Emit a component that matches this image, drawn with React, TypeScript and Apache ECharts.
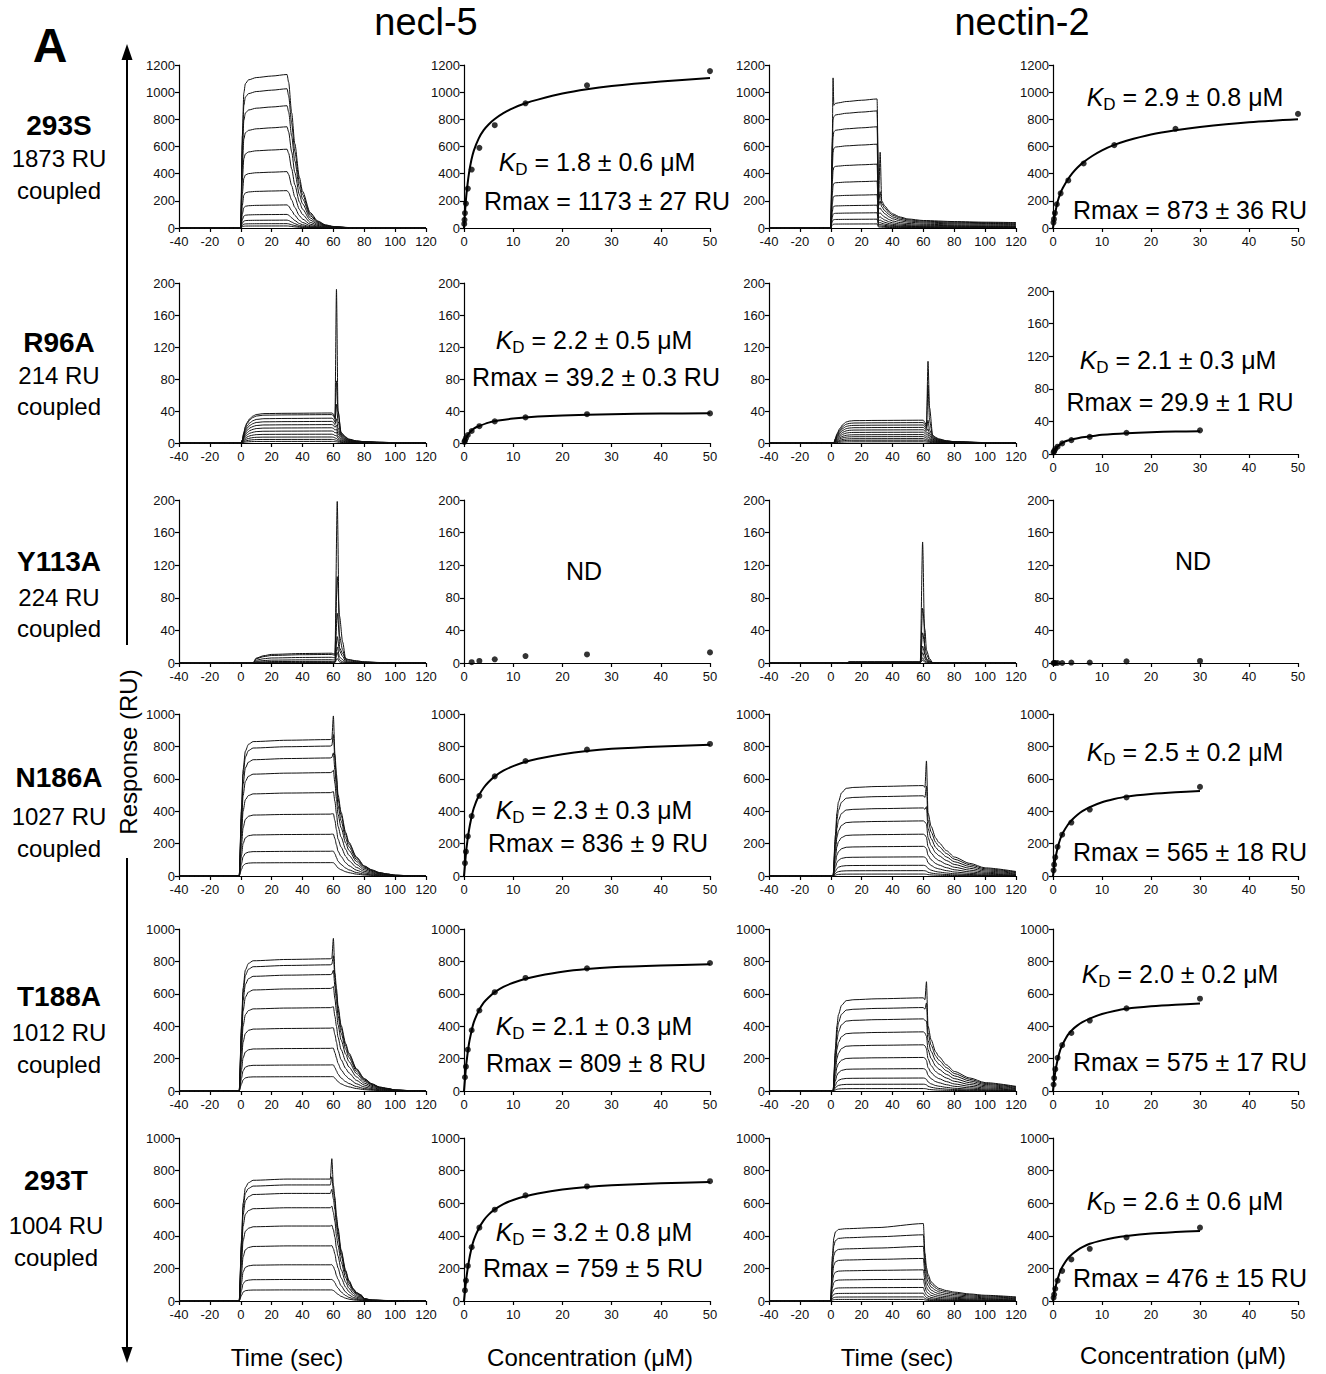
import React, { useEffect, useRef } from 'react';
import * as echarts from 'echarts';

const FONT = '"Liberation Sans", Arial, Helvetica, sans-serif';

// ---------- labels ----------
const ROW_NAMES = ['293S', 'R96A', 'Y113A', 'N186A', 'T188A', '293T'];
const ROW_COUPLED = ['1873 RU', '214 RU', '224 RU', '1027 RU', '1012 RU', '1004 RU'];
const COL_TITLES = ['necl-5', 'nectin-2'];
const Y_MAX = [1200, 200, 200, 1000, 1000, 1000];
const Y_STEP = [200, 40, 40, 200, 200, 200];
const KD_TEXT = [
  ['1.8 ± 0.6 μM', '2.9 ± 0.8 μM'],
  ['2.2 ± 0.5 μM', '2.1 ± 0.3 μM'],
  ['', ''],
  ['2.3 ± 0.3 μM', '2.5 ± 0.2 μM'],
  ['2.1 ± 0.3 μM', '2.0 ± 0.2 μM'],
  ['3.2 ± 0.8 μM', '2.6 ± 0.6 μM'],
];
const RMAX_TEXT = [
  ['Rmax = 1173 ± 27 RU', 'Rmax = 873 ± 36 RU'],
  ['Rmax = 39.2 ± 0.3 RU', 'Rmax = 29.9 ± 1 RU'],
  ['', ''],
  ['Rmax = 836 ± 9 RU', 'Rmax = 565 ± 18 RU'],
  ['Rmax = 809 ± 8 RU', 'Rmax = 575 ± 17 RU'],
  ['Rmax = 759 ± 5 RU', 'Rmax = 476 ± 15 RU'],
];

// ---------- sensorgram data (time, fraction of plateau, plateau levels, injection spikes) ----------
type Spike = [number, number[]];

const T_N_293S = [-40, 0, 1, 2, 3, 5, 10, 20, 30, 31, 33, 35, 38, 40, 45, 50, 55, 60, 70, 80, 120];
const F_N_293S = [0, 0, 0.6, 0.88, 0.94, 0.965, 0.98, 0.99, 1.0, 0.95, 0.75, 0.55, 0.33, 0.24, 0.1, 0.045, 0.02, 0.01, 0.003, 0, 0];
const L_N_293S = [1130, 1025, 900, 745, 580, 415, 275, 170, 100, 58, 32, 15];
const S_N_293S: Spike[] = [];

const T_C_293S = [-40, 0, 1, 1.5, 2, 3, 5, 10, 20, 30, 31, 32, 33, 35, 38, 40, 45, 50, 60, 80, 100, 120];
const F_C_293S = [0, 0, 0.7, 0.9, 0.95, 0.965, 0.97, 0.98, 0.99, 1.0, 0.22, 0.24, 0.21, 0.17, 0.13, 0.11, 0.085, 0.07, 0.058, 0.05, 0.045, 0.042];
const L_C_293S = [950, 862, 745, 617, 470, 345, 245, 168, 112, 65, 30];
const S_C_293S: Spike[] = [[1.5, [250, 20]], [32, [330, 60, 20]]];

const T_N_R96A = [-40, 0, 1, 2, 3, 4, 6, 8, 10, 15, 30, 59, 60, 61, 62, 63, 65, 68, 70, 75, 80, 90, 100, 120];
const F_N_R96A = [0, 0, 0.1, 0.35, 0.55, 0.68, 0.82, 0.9, 0.95, 0.98, 0.99, 1.0, 0.97, 0.85, 0.75, 0.55, 0.35, 0.2, 0.13, 0.07, 0.045, 0.025, 0.012, 0.005];
const L_N_R96A = [37.5, 35.5, 31, 27, 23, 19, 15, 11, 7.5, 4.5, 2];
const S_N_R96A: Spike[] = [[62, [164, 51, 25, 10, 5, 3, 2, 1]], [63, [20, 20, 10, 4, 2, 1]]];

const T_C_R96A = [-40, 2, 3, 4, 6, 8, 10, 12, 15, 30, 60, 61, 62, 63, 64, 66, 68, 70, 75, 80, 100, 120];
const F_C_R96A = [0, 0, 0.2, 0.4, 0.65, 0.82, 0.92, 0.96, 0.98, 0.99, 1.0, 0.9, 0.75, 0.6, 0.5, 0.35, 0.25, 0.18, 0.1, 0.06, 0.02, 0.01];
const L_C_R96A = [28.5, 25.5, 22.5, 19.5, 16.5, 13.5, 10.5, 8, 5.5, 3.5, 1.5];
const S_C_R96A: Spike[] = [[63, [85, 57, 15, 6, 3, 2, 1]], [64, [30, 15, 5, 2, 1]]];

const T_N_Y113A = [-40, 0, 8, 10, 15, 20, 40, 59, 60, 61, 62.5, 64, 66, 68, 70, 75, 80, 90, 100, 120];
const F_N_Y113A = [0, 0, 0, 0.5, 0.75, 0.88, 0.97, 1.0, 0.95, 0.9, 0.85, 0.7, 0.55, 0.45, 0.35, 0.22, 0.12, 0.05, 0.03, 0.02];
const L_N_Y113A = [12, 10.5, 7, 4, 2, 1, 0.5];
const S_N_Y113A: Spike[] = [[62.5, [188, 97, 55, 29, 18, 12, 5]], [64, [10, 50, 28, 12, 6, 3, 1]], [66, [5, 20, 12, 6, 3, 1, 0]]];

const T_C_Y113A = [-40, 10, 12, 20, 57, 58, 59.5, 61, 62, 64, 66, 70, 80, 120];
const F_C_Y113A = [0, 0, 1, 1, 1, 1, 1, 0.8, 0.6, 0.4, 0.3, 0.15, 0.05, 0];
const L_C_Y113A = [1.5, 1.2, 1, 0.8, 0.6, 0.4, 0.2];
const S_C_Y113A: Spike[] = [[59.5, [147, 66, 36, 20, 12, 6, 3]], [61, [10, 40, 20, 10, 5, 2, 1]], [62, [3, 15, 10, 5, 2, 1, 0]], [64, [1, 5, 3, 2, 1]]];

const T_N_N186A = [-40, -1, 0.5, 1.5, 3, 5, 8, 30, 58, 59, 60, 61, 62, 63, 65, 68, 70, 75, 80, 85, 90, 95, 100, 110, 120];
const F_N_N186A = [0, 0, 0.5, 0.78, 0.92, 0.97, 0.99, 1.0, 1.005, 1.01, 1.0, 0.9, 0.75, 0.6, 0.47, 0.32, 0.25, 0.14, 0.075, 0.045, 0.025, 0.015, 0.006, 0.002, 0];
const L_N_N186A = [838, 798, 725, 635, 512, 380, 256, 152, 82];
const S_N_N186A: Spike[] = [[60, [150, 75, 35, 18, 9, 4, 2, 1]]];

const T_C_N186A = [-40, 1.5, 3, 4, 5, 7, 10, 15, 30, 60, 61, 62, 63, 65, 68, 70, 75, 80, 90, 100, 120];
const F_C_N186A = [0, 0, 0.45, 0.7, 0.82, 0.92, 0.97, 0.98, 0.99, 1.0, 0.98, 0.9, 0.7, 0.55, 0.42, 0.37, 0.28, 0.21, 0.14, 0.09, 0.05];
const L_C_N186A = [558, 495, 420, 340, 258, 183, 118, 66, 33, 12];
const S_C_N186A: Spike[] = [[62, [208, 110, 50, 15, 6, 3, 1]]];

const T_N_T188A = [-40, -1, 0.5, 1.5, 3, 5, 8, 30, 58, 59, 60, 61, 62, 63, 65, 68, 70, 75, 80, 85, 90, 95, 100, 110, 120];
const F_N_T188A = [0, 0, 0.5, 0.78, 0.92, 0.97, 0.99, 1.0, 1.005, 1.01, 1.0, 0.9, 0.78, 0.65, 0.5, 0.36, 0.29, 0.17, 0.095, 0.055, 0.03, 0.02, 0.008, 0.003, 0];
const L_N_T188A = [812, 775, 715, 630, 512, 386, 262, 160, 88];
const S_N_T188A: Spike[] = [[60, [130, 60, 30, 15, 8, 4, 2, 1]]];

const T_C_T188A = [-40, 1.5, 3, 4, 5, 7, 10, 15, 30, 60, 61, 62, 63, 65, 68, 70, 75, 80, 90, 100, 120];
const F_C_T188A = [0, 0, 0.45, 0.7, 0.82, 0.92, 0.97, 0.98, 0.99, 1.0, 0.98, 0.9, 0.7, 0.55, 0.42, 0.37, 0.28, 0.21, 0.14, 0.09, 0.05];
const L_C_T188A = [575, 515, 445, 365, 285, 207, 138, 80, 42, 15];
const S_C_T188A: Spike[] = [[62, [157, 80, 30, 10, 5, 2]]];

const T_N_293T = [-40, -1, 0.5, 1.5, 3, 5, 8, 30, 58, 59, 60, 61, 62, 63, 65, 68, 70, 73, 75, 78, 80, 85, 95, 120];
const F_N_293T = [0, 0, 0.5, 0.8, 0.93, 0.97, 0.99, 1.0, 1.0, 1.0, 0.95, 0.85, 0.7, 0.6, 0.42, 0.25, 0.17, 0.1, 0.07, 0.05, 0.02, 0.008, 0.004, 0];
const L_N_293T = [748, 712, 660, 572, 460, 338, 222, 132, 68];
const S_N_293T: Spike[] = [[59, [125, 50, 25, 10, 5, 2, 1]]];

const T_C_293T = [-40, 0, 1, 2, 3, 5, 10, 30, 60, 61, 62, 63, 65, 68, 70, 75, 80, 90, 100, 120];
const F_C_293T = [0, 0, 0.6, 0.85, 0.93, 0.965, 0.975, 0.99, 1.0, 0.65, 0.45, 0.36, 0.26, 0.2, 0.17, 0.14, 0.12, 0.095, 0.077, 0.055];
const L_C_293T = [455, 398, 328, 258, 190, 133, 83, 48, 25, 10];
const S_C_293T: Spike[] = [[60, [20, 8, 7, 3, 1]]];

// ---------- isotherm data ----------
const C_NECL = [0.049, 0.098, 0.195, 0.39, 0.78, 1.56, 3.125, 6.25, 12.5, 25, 50];
const C_NECTIN = [0.117, 0.234, 0.469, 0.938, 1.875, 3.75, 7.5, 15, 30];

const R_N_293S = [30, 60, 110, 180, 290, 430, 590, 757, 918, 1050, 1155];
const FIT_N_293S = [[0, 0], [0.25, 140], [0.5, 250], [1, 400], [1.5, 500], [2, 570], [3, 660], [4, 720], [5, 762], [6.25, 802], [8, 845], [10, 883], [12.5, 918], [15, 945], [20, 990], [25, 1022], [30, 1045], [40, 1078], [50, 1105]];
const R_C_293S = [40, 65, 110, 175, 255, 350, 475, 610, 730, 840];
const FIT_C_293S = [[0, 0], [0.25, 70], [0.5, 120], [1, 200], [1.5, 255], [2, 295], [3, 355], [4, 405], [5, 445], [6.25, 485], [8, 530], [10, 572], [12.5, 612], [15, 642], [20, 688], [25, 720], [30, 744], [40, 778], [50, 800]];

const R_N_R96A = [1.5, 3, 6, 10, 15, 21, 27, 32, 36, 37];
const FIT_N_R96A = [[0, 0], [0.5, 7], [1, 12], [2, 18], [3, 21], [5, 25.5], [7, 28], [10, 30.5], [15, 33], [20, 34.5], [30, 36], [40, 36.8], [50, 37.2]];
const R_C_R96A = [2, 3.5, 6, 9, 13, 17, 21, 26, 29];
const FIT_C_R96A = [[0, 0], [0.5, 6], [1, 9.5], [2, 14], [3, 16.5], [4, 18], [6, 20.5], [8, 22], [10, 23.5], [15, 25.5], [20, 26.8], [25, 27.5], [30, 28]];

const R_N_Y113A = [1, 2.5, 4.5, 8.5, 10.5, 13];
const R_C_Y113A = [0, 0, 0, 0, 0, 0.5, 0.5, 2, 2.5];

const R_N_N186A = [80, 150, 245, 370, 495, 615, 710, 780, 815];
const FIT_N_N186A = [[0, 0], [0.2, 70], [0.5, 170], [1, 280], [1.5, 360], [2, 420], [3, 495], [4, 545], [5, 580], [6.25, 615], [8, 650], [10, 678], [12.5, 705], [15, 724], [20, 752], [25, 772], [30, 785], [40, 800], [50, 810]];
const R_C_N186A = [35, 70, 115, 180, 255, 330, 410, 485, 550];
const FIT_C_N186A = [[0, 0], [0.25, 60], [0.5, 110], [1, 180], [1.5, 230], [2, 265], [3, 315], [4, 350], [5, 378], [6, 400], [7.5, 425], [10, 455], [12.5, 475], [15, 490], [20, 506], [25, 517], [30, 525]];

const R_N_T188A = [85, 150, 255, 375, 497, 610, 698, 757, 790];
const FIT_N_T188A = [[0, 0], [0.2, 75], [0.5, 175], [1, 290], [1.5, 365], [2, 425], [3, 495], [4, 545], [5, 577], [6.25, 610], [8, 643], [10, 668], [12.5, 693], [15, 710], [20, 736], [25, 753], [30, 764], [40, 775], [50, 782]];
const R_C_T188A = [40, 80, 135, 205, 283, 358, 435, 510, 570];
const FIT_C_T188A = [[0, 0], [0.25, 70], [0.5, 125], [1, 200], [1.5, 255], [2, 290], [3, 345], [4, 380], [5, 405], [6, 425], [7.5, 447], [10, 475], [12.5, 494], [15, 508], [20, 523], [25, 533], [30, 540]];

const R_N_293T = [65, 125, 215, 330, 450, 560, 648, 703, 735];
const FIT_N_293T = [[0, 0], [0.2, 60], [0.5, 145], [1, 245], [1.5, 320], [2, 375], [3, 445], [4, 495], [5, 530], [6.25, 562], [8, 595], [10, 620], [12.5, 643], [15, 660], [20, 684], [25, 700], [30, 710], [40, 722], [50, 730]];
const R_C_293T = [20, 40, 75, 125, 185, 255, 320, 390, 450];
const FIT_C_293T = [[0, 0], [0.25, 45], [0.5, 85], [1, 140], [1.5, 185], [2, 215], [3, 260], [4, 290], [5, 312], [6, 330], [7.5, 351], [10, 372], [12.5, 388], [15, 399], [20, 414], [25, 423], [30, 430]];

// panel lookup tables: [row][side] (side 0 = necl-5, 1 = nectin-2)
const SENSOR: [number[], number[], number[], Spike[]][][] = [
  [[T_N_293S, F_N_293S, L_N_293S, S_N_293S], [T_C_293S, F_C_293S, L_C_293S, S_C_293S]],
  [[T_N_R96A, F_N_R96A, L_N_R96A, S_N_R96A], [T_C_R96A, F_C_R96A, L_C_R96A, S_C_R96A]],
  [[T_N_Y113A, F_N_Y113A, L_N_Y113A, S_N_Y113A], [T_C_Y113A, F_C_Y113A, L_C_Y113A, S_C_Y113A]],
  [[T_N_N186A, F_N_N186A, L_N_N186A, S_N_N186A], [T_C_N186A, F_C_N186A, L_C_N186A, S_C_N186A]],
  [[T_N_T188A, F_N_T188A, L_N_T188A, S_N_T188A], [T_C_T188A, F_C_T188A, L_C_T188A, S_C_T188A]],
  [[T_N_293T, F_N_293T, L_N_293T, S_N_293T], [T_C_293T, F_C_293T, L_C_293T, S_C_293T]],
];
const ISO: [number[], number[], number[][] | null][][] = [
  [[C_NECL, R_N_293S, FIT_N_293S], [C_NECL.slice(1), R_C_293S, FIT_C_293S]],
  [[C_NECL.slice(1), R_N_R96A, FIT_N_R96A], [C_NECTIN, R_C_R96A, FIT_C_R96A]],
  [[C_NECL.slice(5), R_N_Y113A, null], [C_NECTIN, R_C_Y113A, null]],
  [[C_NECL.slice(2), R_N_N186A, FIT_N_N186A], [C_NECTIN, R_C_N186A, FIT_C_N186A]],
  [[C_NECL.slice(2), R_N_T188A, FIT_N_T188A], [C_NECTIN, R_C_T188A, FIT_C_T188A]],
  [[C_NECL.slice(2), R_N_293T, FIT_N_293T], [C_NECTIN, R_C_293T, FIT_C_293T]],
];

// ---------- layout ----------
const COL_LEFT = [179, 464, 769, 1053];
const COL_WIDTH = [247, 246, 247, 245];
const ROW_TOP = [65, 283, 500, 714, 929, 1138];
const ROW_H = [163, 160, 163, 162, 162, 163];
const KD_POS = [
  [[597, 162], [1185, 97]],
  [[594, 340], [1178, 360]],
  [[584, 571], [1193, 561]],
  [[594, 810], [1185, 752]],
  [[594, 1026], [1180, 974]],
  [[594, 1232], [1185, 1201]],
];
const RMAX_POS = [
  [[607, 201], [1190, 210]],
  [[596, 377], [1180, 402]],
  [[0, 0], [0, 0]],
  [[598, 843], [1190, 852]],
  [[596, 1063], [1190, 1062]],
  [[593, 1268], [1190, 1278]],
];
const ROW_LABEL_Y = [
  [125, 158, 190],
  [342, 375, 406],
  [561, 597, 628],
  [777, 816, 848],
  [996, 1032, 1064],
  [1180, 1225, 1257],
];

function sensorCurves(t: number[], f: number[], lv: number[], sp: Spike[]) {
  return lv.map((L, i) =>
    t.map((tt, j) => {
      let v = L * f[j];
      for (const [at, h] of sp) if (at === tt) v += h[i] || 0;
      return [tt, v];
    })
  );
}

function txt(x: number, y: number, text: string, size: number, extra: any = {}) {
  return {
    type: 'text',
    x,
    y,
    silent: true,
    ...extra,
    style: {
      text,
      fontSize: size,
      fontFamily: FONT,
      fill: '#000',
      align: 'center',
      verticalAlign: 'middle',
      textAlign: 'center',
      textVerticalAlign: 'middle',
      ...(extra.style || {}),
    },
  };
}

function buildOption() {
  const grid: any[] = [];
  const xAxis: any[] = [];
  const yAxis: any[] = [];
  const series: any[] = [];
  const axisLine = { show: true, onZero: false, lineStyle: { color: '#000', width: 1.2 } };
  const axisTick = { show: true, length: 4, lineStyle: { color: '#000', width: 1.2 } };
  const labelBase = {
    color: '#111',
    fontSize: 13,
    fontFamily: FONT,
    showMinLabel: true,
    showMaxLabel: true,
    formatter: (v: number) => String(v),
  };
  for (let r = 0; r < 6; r++) {
    for (let c = 0; c < 4; c++) {
      const k = grid.length;
      let top = ROW_TOP[r];
      let h = ROW_H[r];
      if (r === 1 && c === 3) {
        top = 291;
        h = 163;
      }
      grid.push({ left: COL_LEFT[c], top, width: COL_WIDTH[c], height: h, containLabel: false });
      const isSensor = c % 2 === 0;
      xAxis.push({
        gridIndex: k,
        type: 'value',
        min: isSensor ? -40 : 0,
        max: isSensor ? 120 : 50,
        interval: isSensor ? 20 : 10,
        axisLine,
        axisTick,
        axisLabel: { ...labelBase, margin: 7 },
        splitLine: { show: false },
      });
      yAxis.push({
        gridIndex: k,
        type: 'value',
        min: 0,
        max: Y_MAX[r],
        interval: Y_STEP[r],
        axisLine,
        axisTick,
        axisLabel: { ...labelBase, margin: 4 },
        splitLine: { show: false },
      });
      const side = c < 2 ? 0 : 1;
      if (isSensor) {
        const [t, f, lv, sp] = SENSOR[r][side];
        sensorCurves(t, f, lv, sp).forEach((d) => {
          series.push({
            type: 'line',
            xAxisIndex: k,
            yAxisIndex: k,
            data: d,
            showSymbol: false,
            symbol: 'none',
            smooth: 0.25,
            smoothMonotone: 'x',
            clip: true,
            lineStyle: { color: '#111', width: 1 },
            silent: true,
          });
        });
      } else {
        const [conc, resp, fit] = ISO[r][side];
        if (fit) {
          series.push({
            type: 'line',
            xAxisIndex: k,
            yAxisIndex: k,
            data: fit,
            showSymbol: false,
            symbol: 'none',
            smooth: 0.3,
            lineStyle: { color: '#000', width: 2 },
            silent: true,
          });
        }
        series.push({
          type: 'scatter',
          xAxisIndex: k,
          yAxisIndex: k,
          data: conc.map((cc, i) => [cc, resp[i]]),
          symbol: 'circle',
          symbolSize: 6,
          itemStyle: { color: '#000' },
          silent: true,
        });
      }
    }
  }

  const graphic: any[] = [];
  graphic.push(txt(50, 45, 'A', 48, { style: { fontWeight: 'bold' } }));
  graphic.push(txt(426, 22, COL_TITLES[0], 38));
  graphic.push(txt(1022, 22, COL_TITLES[1], 38));
  for (let r = 0; r < 6; r++) {
    const xc = r === 5 ? 56 : 59;
    graphic.push(txt(xc, ROW_LABEL_Y[r][0], ROW_NAMES[r], 28, { style: { fontWeight: 'bold' } }));
    graphic.push(txt(xc, ROW_LABEL_Y[r][1], ROW_COUPLED[r], 24));
    graphic.push(txt(xc, ROW_LABEL_Y[r][2], 'coupled', 24));
    for (let s = 0; s < 2; s++) {
      const [kx, ky] = KD_POS[r][s];
      if (r === 2) {
        graphic.push(txt(kx, ky, 'ND', 25));
        continue;
      }
      graphic.push({
        type: 'text',
        x: kx,
        y: ky,
        silent: true,
        style: {
          text: '{i|K}{s|D}{n| = ' + KD_TEXT[r][s] + '}',
          align: 'center',
          verticalAlign: 'middle',
          textAlign: 'center',
          textVerticalAlign: 'middle',
          fill: '#000',
          rich: {
            i: { fontStyle: 'italic', fontSize: 25, fontFamily: FONT, lineHeight: 32, fill: '#000' },
            s: { fontSize: 17, fontFamily: FONT, lineHeight: 17, verticalAlign: 'bottom', fill: '#000' },
            n: { fontSize: 25, fontFamily: FONT, lineHeight: 32, fill: '#000' },
          },
        },
      });
      const [rx, ry] = RMAX_POS[r][s];
      graphic.push(txt(rx, ry, RMAX_TEXT[r][s], 25));
    }
  }
  // bottom axis titles
  graphic.push(txt(287, 1357, 'Time (sec)', 24));
  graphic.push(txt(590, 1357, 'Concentration (μM)', 24));
  graphic.push(txt(897, 1357, 'Time (sec)', 24));
  graphic.push(txt(1183, 1355, 'Concentration (μM)', 24));
  // vertical double arrow with label
  graphic.push({ type: 'line', silent: true, shape: { x1: 127, y1: 56, x2: 127, y2: 645 }, style: { stroke: '#000', lineWidth: 2 } });
  graphic.push({ type: 'line', silent: true, shape: { x1: 127, y1: 858, x2: 127, y2: 1352 }, style: { stroke: '#000', lineWidth: 2 } });
  graphic.push({ type: 'polygon', silent: true, shape: { points: [[127, 44], [121.5, 60], [132.5, 60]] }, style: { fill: '#000' } });
  graphic.push({ type: 'polygon', silent: true, shape: { points: [[127, 1363], [121.5, 1347], [132.5, 1347]] }, style: { fill: '#000' } });
  graphic.push(txt(128, 752, 'Response (RU)', 24, { rotation: Math.PI / 2 }));

  return {
    animation: false,
    backgroundColor: '#fff',
    grid,
    xAxis,
    yAxis,
    series,
    graphic,
  };
}

export default function App() {
  const ref = useRef<HTMLDivElement>(null);
  useEffect(() => {
    document.body.style.margin = '0';
    const chart = echarts.init(ref.current!, null, { renderer: 'svg', width: 1326, height: 1374 });
    chart.setOption(buildOption() as any);
    return () => chart.dispose();
  }, []);
  return <div ref={ref} style={{ width: 1326, height: 1374, background: '#fff' }} />;
}
